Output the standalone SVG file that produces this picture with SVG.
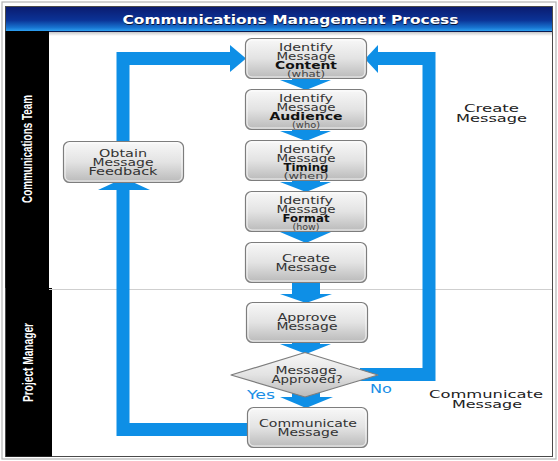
<svg xmlns="http://www.w3.org/2000/svg" width="558" height="461" viewBox="0 0 558 461">
<defs>
<linearGradient id="title" x1="0" y1="0" x2="0" y2="1">
<stop offset="0" stop-color="#0b1c70"/>
<stop offset="0.55" stop-color="#0b3396"/>
<stop offset="0.85" stop-color="#1772cf"/>
<stop offset="1" stop-color="#2c9ff0"/>
</linearGradient>
<linearGradient id="box" x1="0" y1="0" x2="0" y2="1">
<stop offset="0" stop-color="#f8f8f8"/>
<stop offset="0.5" stop-color="#e3e3e3"/>
<stop offset="1" stop-color="#b9b9b9"/>
</linearGradient>
<linearGradient id="shade" x1="0" y1="0" x2="0" y2="1">
<stop offset="0" stop-color="#c8c8c8"/>
<stop offset="1" stop-color="#ffffff"/>
</linearGradient>
</defs>
<style>
.bx{fill:url(#box);stroke:#7d7d7d;stroke-width:1.2}
.bxi{fill:none;stroke:#ffffff;stroke-width:1;opacity:0.8}
.bt{font-family:"DejaVu Sans",Verdana,sans-serif;font-size:10px;fill:#333333;text-anchor:middle}
.bb{font-family:"DejaVu Sans",Verdana,sans-serif;font-size:10px;font-weight:bold;fill:#111111;text-anchor:middle}
.bs{font-family:"DejaVu Sans",Verdana,sans-serif;font-size:8px;fill:#444444;text-anchor:middle}
.lt{font-family:"DejaVu Sans",Verdana,sans-serif;font-size:11px;fill:#222222;text-anchor:middle}
.lane{font-family:"Liberation Sans",Arial,sans-serif;font-size:14px;font-weight:bold;fill:#ffffff;text-anchor:middle}
.blue{fill:#0e8fe6}
.line{fill:none;stroke:#0e8fe6;stroke-linejoin:miter}
.yn{font-family:"DejaVu Sans",Verdana,sans-serif;font-size:12px;fill:#1a8fe6;text-anchor:middle}
</style>

<!-- frame -->
<rect x="0" y="0" width="558" height="461" fill="#ffffff"/>
<rect x="2" y="2" width="554" height="457" fill="none" stroke="#b5b5b5" stroke-width="1.2"/>
<rect x="5.5" y="6.5" width="547" height="450" fill="#ffffff" stroke="#4a4a4a" stroke-width="1"/>

<g id="title-bar">
<rect x="6" y="7" width="546" height="24" fill="url(#title)"/>
<rect x="6" y="31" width="546" height="1.2" fill="#0a1a50"/>
<rect x="49" y="32" width="503" height="4" fill="url(#shade)"/>
<text x="291" y="24.5" font-family="DejaVu Sans,Verdana,sans-serif" font-size="11.5" font-weight="bold" fill="#0a1438" text-anchor="middle" textLength="336" lengthAdjust="spacingAndGlyphs">Communications Management Process</text>
<text x="290.5" y="23.5" font-family="DejaVu Sans,Verdana,sans-serif" font-size="11.5" font-weight="bold" fill="#ffffff" text-anchor="middle" textLength="336" lengthAdjust="spacingAndGlyphs">Communications Management Process</text>
</g>

<g id="lane-communications-team">
<rect x="5.5" y="31" width="43.5" height="257" fill="#000000"/>
<text class="lane" transform="translate(32,149) rotate(-90)" textLength="108" lengthAdjust="spacingAndGlyphs">Communications Team</text>
</g>
<g id="lane-project-manager">
<rect x="6" y="288" width="46" height="168.5" fill="#000000"/>
<text class="lane" transform="translate(33,362.5) rotate(-90)" textLength="79" lengthAdjust="spacingAndGlyphs">Project Manager</text>
</g>
<line x1="49" y1="289.5" x2="552" y2="289.5" stroke="#cfcfcf" stroke-width="1"/>

<g id="connectors">
<!-- Communicate -> Obtain Feedback -->
<polyline class="line" stroke-width="13" points="250,429.5 123,429.5 123,188"/>
<polygon class="blue" points="98,190 150,190 124,178"/>
<!-- Obtain Feedback -> Content -->
<polyline class="line" stroke-width="13" points="123,145 123,58.5 232,58.5"/>
<polygon class="blue" points="230,45 230,72 246,58.5"/>
<!-- Decision No -> Content -->
<polyline class="line" stroke-width="13" points="360,374.5 429,374.5 429,58.5 377,58.5"/>
<polygon class="blue" points="378,45 378,73 365,59"/>
<!-- vertical flow arrows -->
<rect class="blue" x="292" y="76" width="28" height="5"/>
<polygon class="blue" points="280,80 331,80 306,90"/>
<rect class="blue" x="292" y="127" width="28" height="5"/>
<polygon class="blue" points="280,131 331,131 306,141"/>
<rect class="blue" x="292" y="178" width="28" height="5"/>
<polygon class="blue" points="280,182 331,182 306,192"/>
<rect class="blue" x="292" y="229" width="28" height="5"/>
<polygon class="blue" points="280,232 331,232 306,243"/>
<rect class="blue" x="292" y="280" width="28" height="15"/>
<polygon class="blue" points="280,294 332,294 306,303"/>
<rect class="blue" x="292" y="340" width="28" height="5"/>
<polygon class="blue" points="280,344 331,344 306,354"/>
<rect class="blue" x="292" y="390" width="28" height="8"/>
<polygon class="blue" points="280,397 333,397 306,408"/>
</g>

<g id="node-content">
<rect class="bx" x="245.5" y="38.5" width="121" height="40" rx="6"/>
<rect class="bxi" x="247" y="40" width="118" height="37" rx="5"/>
<text class="bt" x="306" y="51" textLength="54" lengthAdjust="spacingAndGlyphs">Identify</text>
<text class="bt" x="306" y="60" textLength="59" lengthAdjust="spacingAndGlyphs">Message</text>
<text class="bb" x="306" y="69" textLength="62" lengthAdjust="spacingAndGlyphs">Content</text>
<text class="bs" x="306" y="77" textLength="38" lengthAdjust="spacingAndGlyphs">(what)</text>
</g>
<g id="node-audience">
<rect class="bx" x="245.5" y="89.5" width="121" height="40" rx="6"/>
<rect class="bxi" x="247" y="91" width="118" height="37" rx="5"/>
<text class="bt" x="306" y="102" textLength="54" lengthAdjust="spacingAndGlyphs">Identify</text>
<text class="bt" x="306" y="111" textLength="59" lengthAdjust="spacingAndGlyphs">Message</text>
<text class="bb" x="306" y="120" textLength="73" lengthAdjust="spacingAndGlyphs">Audience</text>
<text class="bs" x="306" y="128" textLength="28" lengthAdjust="spacingAndGlyphs">(who)</text>
</g>
<g id="node-timing">
<rect class="bx" x="245.5" y="140.5" width="121" height="40" rx="6"/>
<rect class="bxi" x="247" y="142" width="118" height="37" rx="5"/>
<text class="bt" x="306" y="153" textLength="54" lengthAdjust="spacingAndGlyphs">Identify</text>
<text class="bt" x="306" y="162" textLength="59" lengthAdjust="spacingAndGlyphs">Message</text>
<text class="bb" x="306" y="171" textLength="45" lengthAdjust="spacingAndGlyphs">Timing</text>
<text class="bs" x="306" y="179" textLength="45" lengthAdjust="spacingAndGlyphs">(when)</text>
</g>
<g id="node-format">
<rect class="bx" x="245.5" y="191.5" width="121" height="40" rx="6"/>
<rect class="bxi" x="247" y="193" width="118" height="37" rx="5"/>
<text class="bt" x="306" y="204" textLength="54" lengthAdjust="spacingAndGlyphs">Identify</text>
<text class="bt" x="306" y="213" textLength="59" lengthAdjust="spacingAndGlyphs">Message</text>
<text class="bb" x="306" y="222" textLength="47" lengthAdjust="spacingAndGlyphs">Format</text>
<text class="bs" x="306" y="230" textLength="27" lengthAdjust="spacingAndGlyphs">(how)</text>
</g>
<g id="node-create">
<rect class="bx" x="245.5" y="242.5" width="121" height="40" rx="6"/>
<rect class="bxi" x="247" y="244" width="118" height="37" rx="5"/>
<text class="bt" x="306" y="262" textLength="48" lengthAdjust="spacingAndGlyphs">Create</text>
<text class="bt" x="306" y="271" textLength="61" lengthAdjust="spacingAndGlyphs">Message</text>
</g>
<g id="node-approve">
<rect class="bx" x="246.5" y="302.5" width="121" height="40" rx="6"/>
<rect class="bxi" x="248" y="304" width="118" height="37" rx="5"/>
<text class="bt" x="307" y="321" textLength="59" lengthAdjust="spacingAndGlyphs">Approve</text>
<text class="bt" x="307" y="330" textLength="61" lengthAdjust="spacingAndGlyphs">Message</text>
</g>
<g id="node-decision">
<polygon points="231,375 305,352.5 378,375 305,397" fill="url(#box)" stroke="#7d7d7d" stroke-width="1.2" stroke-linejoin="round"/>
<text class="bt" x="306" y="374" textLength="61" lengthAdjust="spacingAndGlyphs">Message</text>
<text class="bt" x="307" y="383" textLength="71" lengthAdjust="spacingAndGlyphs">Approved?</text>
</g>
<g id="node-communicate">
<rect class="bx" x="247.5" y="407.5" width="120" height="40" rx="6"/>
<rect class="bxi" x="249" y="409" width="117" height="37" rx="5"/>
<text class="bt" x="308" y="427" textLength="98" lengthAdjust="spacingAndGlyphs">Communicate</text>
<text class="bt" x="308" y="436" textLength="61" lengthAdjust="spacingAndGlyphs">Message</text>
</g>
<g id="node-feedback">
<rect class="bx" x="63.5" y="141.5" width="120" height="41" rx="6"/>
<rect class="bxi" x="65" y="143" width="117" height="38" rx="5"/>
<text class="bt" x="123" y="157" textLength="48" lengthAdjust="spacingAndGlyphs">Obtain</text>
<text class="bt" x="123" y="166" textLength="61" lengthAdjust="spacingAndGlyphs">Message</text>
<text class="bt" x="123" y="175" textLength="69" lengthAdjust="spacingAndGlyphs">Feedback</text>
</g>

<g id="labels">
<text class="yn" x="261" y="399" textLength="28" lengthAdjust="spacingAndGlyphs">Yes</text>
<text class="yn" x="381" y="393" textLength="22" lengthAdjust="spacingAndGlyphs">No</text>
<text class="lt" x="491.5" y="112" textLength="55" lengthAdjust="spacingAndGlyphs">Create</text>
<text class="lt" x="491.5" y="122" textLength="71" lengthAdjust="spacingAndGlyphs">Message</text>
<text class="lt" x="486" y="398" textLength="114" lengthAdjust="spacingAndGlyphs">Communicate</text>
<text class="lt" x="487" y="408" textLength="70" lengthAdjust="spacingAndGlyphs">Message</text>
</g>
</svg>
